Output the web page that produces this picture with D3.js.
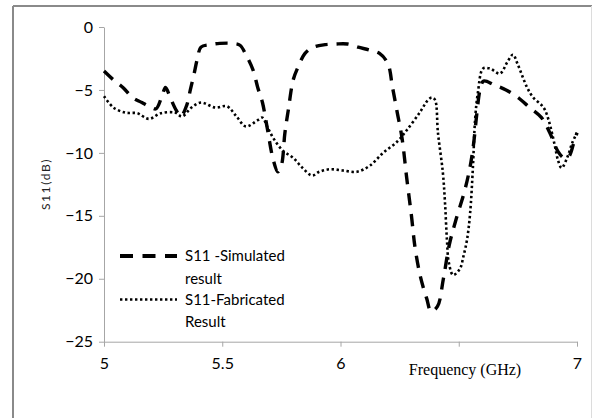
<!DOCTYPE html>
<html>
<head>
<meta charset="utf-8">
<script src="https://cdn.jsdelivr.net/npm/d3@7"></script>
<style>
  body { margin: 0; background: #fff; }
  svg { display: block; }
</style>
</head>
<body>
<div id="chart"></div>
<script>
// data
var freqSim = [5.00, 5.04, 5.08, 5.12, 5.16, 5.20, 5.22, 5.245, 5.26, 5.28, 5.305, 5.325, 5.35, 5.365, 5.38, 5.395, 5.41, 5.45, 5.49, 5.545, 5.575, 5.60, 5.63, 5.65, 5.67, 5.69, 5.715, 5.735, 5.75, 5.765, 5.78, 5.80, 5.82, 5.85, 5.885, 5.935, 5.98, 6.03, 6.075, 6.125, 6.165, 6.20, 6.22, 6.24, 6.26, 6.28, 6.30, 6.315, 6.335, 6.35, 6.365, 6.383, 6.41, 6.435, 6.46, 6.49, 6.525, 6.548, 6.562, 6.577, 6.59, 6.605, 6.65, 6.70, 6.75, 6.80, 6.85, 6.885, 6.92, 6.945, 6.965, 6.985, 7.00];
var s11Sim = [-3.5, -4.2, -4.8, -5.6, -6.0, -6.4, -6.5, -5.5, -4.8, -5.6, -6.6, -7.1, -6.2, -5.0, -3.8, -2.5, -1.6, -1.4, -1.3, -1.3, -1.45, -2.2, -3.4, -4.8, -6.0, -8.0, -10.5, -11.5, -11.0, -8.4, -6.5, -4.2, -3.2, -2.1, -1.6, -1.4, -1.35, -1.35, -1.6, -1.85, -2.1, -2.9, -4.8, -6.8, -8.8, -12.0, -15.0, -17.5, -19.6, -20.7, -21.6, -22.6, -22.2, -20.0, -17.3, -15.2, -13.0, -11.1, -9.4, -6.8, -5.0, -4.3, -4.6, -5.0, -5.6, -6.4, -7.2, -8.4, -9.9, -10.4, -10.3, -9.3, -8.4];

var freqFab = [5.00, 5.04, 5.09, 5.14, 5.19, 5.24, 5.30, 5.33, 5.37, 5.41, 5.47, 5.52, 5.56, 5.60, 5.65, 5.67, 5.69, 5.715, 5.755, 5.80, 5.84, 5.88, 5.91, 5.955, 6.01, 6.07, 6.125, 6.18, 6.24, 6.28, 6.335, 6.37, 6.387, 6.40, 6.412, 6.433, 6.442, 6.45, 6.458, 6.476, 6.505, 6.52, 6.535, 6.548, 6.56, 6.569, 6.581, 6.603, 6.632, 6.674, 6.705, 6.729, 6.75, 6.789, 6.815, 6.85, 6.865, 6.88, 6.894, 6.907, 6.92, 6.935, 6.96, 6.98, 7.00];
var s11Fab = [-5.5, -6.4, -6.8, -6.85, -7.3, -6.85, -6.8, -7.1, -6.4, -6.0, -6.4, -6.3, -7.1, -7.9, -7.4, -7.2, -7.9, -8.8, -9.8, -10.4, -11.2, -11.8, -11.5, -11.3, -11.4, -11.5, -11.0, -10.0, -9.1, -8.2, -6.8, -5.8, -5.6, -5.8, -8.4, -11.6, -14.0, -16.9, -18.7, -19.7, -19.2, -18.2, -16.9, -14.8, -11.1, -7.4, -5.2, -3.3, -3.3, -3.7, -2.8, -2.2, -3.0, -4.8, -5.6, -6.2, -6.6, -7.4, -8.4, -9.5, -10.6, -11.2, -10.3, -9.2, -8.4];

var xTicks = [5, 5.5, 6, 6.5, 7];
// the 6.5 label is hidden behind the axis title in the original
var xTickLabels = ["5", "5.5", "6", "", "7"];
var yTicks = [0, -5, -10, -15, -20, -25];
var seriesNames = ["S11 -Simulated result", "S11-Fabricated Result"];

var W = 594, H = 418;
var margin = {top: 27, right: 17, bottom: 76.3, left: 104};

var svg = d3.select("#chart")
    .append("svg")
    .attr("width", W)
    .attr("height", H);

// outer chart frame
svg.append("line").attr("x1", 13).attr("y1", 6).attr("x2", 592).attr("y2", 6)
    .attr("stroke", "#8a8a8a").attr("stroke-width", 2);
svg.append("line").attr("x1", 13).attr("y1", 6).attr("x2", 13).attr("y2", H)
    .attr("stroke", "#8a8a8a").attr("stroke-width", 2);
svg.append("line").attr("x1", 591.5).attr("y1", 6).attr("x2", 591.5).attr("y2", H)
    .attr("stroke", "#dcdcdc").attr("stroke-width", 1);

var x = d3.scaleLinear()
    .domain([5, 7])
    .range([margin.left, W - margin.right]);
var y = d3.scaleLinear()
    .domain([-25, 0])
    .range([H - margin.bottom, margin.top]);

var tickFont = "Lato, 'Open Sans', sans-serif";

// X axis
var gx = svg.append("g")
    .attr("transform", "translate(0," + y(-25) + ")")
    .call(d3.axisBottom(x).tickValues(xTicks).tickSize(5).tickSizeOuter(0)
        .tickFormat((d, i) => xTickLabels[i]));
gx.select(".domain").attr("stroke", "#a6a6a6");
gx.selectAll(".tick line").attr("stroke", "#a6a6a6");
gx.selectAll(".tick text")
    .attr("y", 16).attr("dy", "0.71em")
    .style("font-family", tickFont).style("font-size", "16px").attr("fill", "#000");

// Y axis
var gy = svg.append("g")
    .attr("transform", "translate(" + x(5) + ",0)")
    .call(d3.axisLeft(y).tickValues(yTicks).tickSize(5).tickSizeOuter(0));
gy.select(".domain").attr("stroke", "#a6a6a6");
gy.selectAll(".tick line").attr("stroke", "#a6a6a6");
gy.selectAll(".tick text")
    .attr("x", -11)
    .style("font-family", tickFont).style("font-size", "16px").attr("fill", "#000");

// X title
svg.append("text")
    .attr("x", 465).attr("y", 369)
    .attr("text-anchor", "middle")
    .attr("dy", "0.35em")
    .style("font-family", "'Liberation Serif', 'Times New Roman', serif")
    .style("font-size", "16px")
    .text("Frequency (GHz)");

// Y title
svg.append("text")
    .attr("transform", "translate(46,184) rotate(-90)")
    .attr("text-anchor", "middle")
    .attr("dy", "0.35em")
    .style("font-family", tickFont)
    .style("font-size", "12px")
    .style("letter-spacing", "1.6px")
    .attr("fill", "#222")
    .text("S11(dB)");

// lines
var line = d3.line()
    .x(d => x(d[0]))
    .y(d => y(d[1]))
    .curve(d3.curveCatmullRom.alpha(0.5));

var simData = freqSim.map((f, i) => [f, s11Sim[i]]);
var fabData = freqFab.map((f, i) => [f, s11Fab[i]]);

var dashStyle = {width: 3.4, dash: "12 9", cap: "butt"};
var dotStyle = {width: 2.6, dash: "2.4 2.6", cap: "butt"};

svg.append("path")
    .datum(fabData)
    .attr("d", line)
    .attr("fill", "none")
    .attr("stroke", "#000")
    .attr("stroke-width", dotStyle.width)
    .attr("stroke-dasharray", dotStyle.dash)
    .attr("stroke-linecap", dotStyle.cap);

svg.append("path")
    .datum(simData)
    .attr("d", line)
    .attr("fill", "none")
    .attr("stroke", "#000")
    .attr("stroke-width", dashStyle.width)
    .attr("stroke-dasharray", dashStyle.dash)
    .attr("stroke-linecap", dashStyle.cap);

// legend
var legend = svg.append("g").attr("transform", "translate(120,256)");
var styles = [dashStyle, dotStyle];
var legendRows = [[seriesNames[0].split(" result")[0], "result"], [seriesNames[1].split(" Result")[0], "Result"]];
legendRows.forEach(function(rows, i) {
    var g = legend.append("g").attr("transform", "translate(0," + (i * 43.5) + ")");
    g.append("line")
        .attr("x1", 0).attr("x2", 57)
        .attr("stroke", "#000")
        .attr("stroke-width", styles[i].width + (i === 0 ? 0.6 : 0))
        .attr("stroke-dasharray", i === 0 ? "13 9.5" : styles[i].dash)
        .attr("stroke-linecap", styles[i].cap);
    rows.forEach(function(t, j) {
        g.append("text")
            .attr("x", 65)
            .attr("y", j * 22.5)
            .attr("dy", "0.35em")
            .style("font-family", tickFont)
            .style("font-size", "15px")
            .text(t);
    });
});
</script>
</body>
</html>
